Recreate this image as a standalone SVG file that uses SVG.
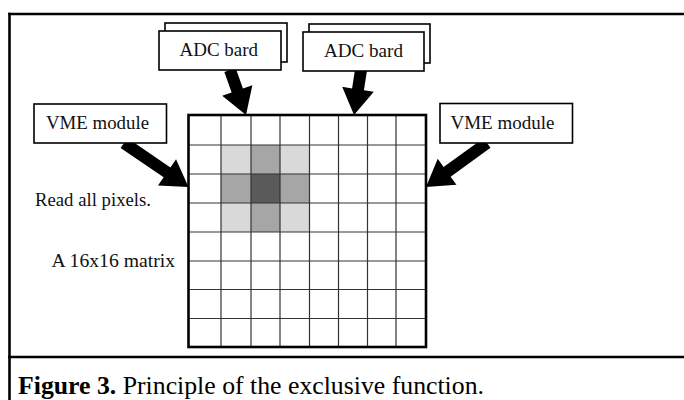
<svg xmlns="http://www.w3.org/2000/svg" width="684" height="400" viewBox="0 0 684 400">
<style>
.box{fill:#fff;stroke:#000;stroke-width:1.6}
.lbl{font-family:"Liberation Serif","Times New Roman",serif;font-size:18px;fill:#111}
.frame{stroke:#000;stroke-width:2.6;fill:none}
.arrow{fill:#000;stroke:none}
.gl{stroke:#333;stroke-width:1.2;fill:none}
</style>
<rect width="684" height="400" fill="#fff"/>
<g id="frame">
<line class="frame" x1="9.5" y1="12.7" x2="9.5" y2="400"/>
<line class="frame" x1="8.2" y1="14" x2="684" y2="14"/>
<line class="frame" x1="8.2" y1="357" x2="684" y2="357"/>
</g>
<g id="connectors">
<polygon class="arrow" points="224.35,72.01 231.64,92.52 222.22,95.87 246,115 252.36,85.15 242.94,88.5 235.65,67.99"/>
<polygon class="arrow" points="355.07,69.08 352.07,88.39 342.19,86.85 354,115 373.81,91.77 363.93,90.23 366.93,70.92"/>
<polygon class="arrow" points="120.62,147.96 163.64,177.31 158,185.57 188.5,187 176.04,159.13 170.4,167.39 127.38,138.04"/>
<polygon class="arrow" points="483.49,138.13 443.58,166.92 437.73,158.81 426,187 456.45,184.77 450.6,176.66 490.51,147.87"/>
</g>
<g id="adc1">
<rect class="box" x="165" y="23" width="122" height="39"/>
<rect class="box" x="159" y="31" width="122" height="39"/>
<text class="lbl" x="179.5" y="55.5" textLength="78.5" lengthAdjust="spacingAndGlyphs">ADC bard</text>
</g>
<g id="adc2">
<rect class="box" x="309" y="24" width="121" height="39"/>
<rect class="box" x="303" y="32" width="121" height="39"/>
<text class="lbl" x="324" y="56.5" textLength="79" lengthAdjust="spacingAndGlyphs">ADC bard</text>
</g>
<g id="vme-left">
<rect class="box" x="34" y="104" width="132.5" height="39"/>
<text class="lbl" x="46" y="128.5" textLength="103" lengthAdjust="spacingAndGlyphs">VME module</text>
</g>
<g id="vme-right">
<rect class="box" x="440" y="103.5" width="132.5" height="39.5"/>
<text class="lbl" x="450.5" y="128.5" textLength="104" lengthAdjust="spacingAndGlyphs">VME module</text>
</g>
<g id="matrix">
<rect x="221" y="145" width="30" height="29" fill="#d9d9d9"/>
<rect x="251" y="145" width="29" height="29" fill="#a6a6a6"/>
<rect x="280" y="145" width="29.5" height="29" fill="#d9d9d9"/>
<rect x="221" y="174" width="30" height="29" fill="#a6a6a6"/>
<rect x="251" y="174" width="29" height="29" fill="#5a5a5a"/>
<rect x="280" y="174" width="29.5" height="29" fill="#a6a6a6"/>
<rect x="221" y="203" width="30" height="29" fill="#d9d9d9"/>
<rect x="251" y="203" width="29" height="29" fill="#a6a6a6"/>
<rect x="280" y="203" width="29.5" height="29" fill="#d9d9d9"/>
<path class="gl" d="M221,115V347M251,115V347M280,115V347M309.5,115V347M338.5,115V347M367.5,115V347M396,115V347M188.5,145H426M188.5,174H426M188.5,203H426M188.5,232H426M188.5,261H426M188.5,289.5H426M188.5,318.5H426"/>
<rect x="188.5" y="115" width="237.5" height="232" fill="none" stroke="#000" stroke-width="2.6"/>
</g>
<g id="notes">
<text class="lbl" x="35" y="205.5" textLength="116" lengthAdjust="spacingAndGlyphs">Read all pixels.</text>
<text class="lbl" x="51.5" y="267" textLength="123.5" lengthAdjust="spacingAndGlyphs">A 16x16 matrix</text>
</g>
<g id="caption">
<text x="18" y="394" font-family="Liberation Serif, Times New Roman, serif" font-size="25" fill="#000" textLength="466" lengthAdjust="spacingAndGlyphs"><tspan font-weight="bold">Figure 3.</tspan> Principle of the exclusive function.</text>
</g>
</svg>
